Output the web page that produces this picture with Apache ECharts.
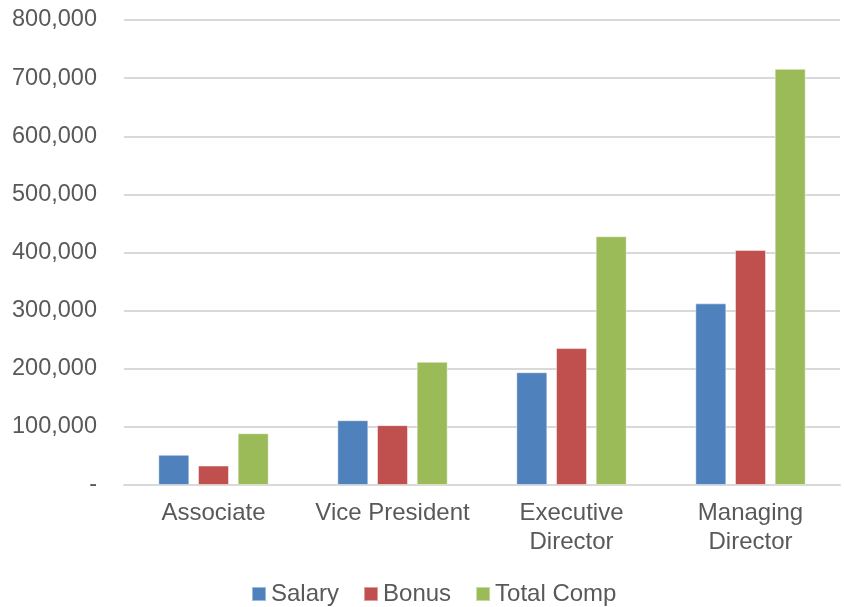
<!DOCTYPE html>
<html>
<head>
<meta charset="utf-8">
<script src="https://cdn.jsdelivr.net/npm/echarts@6/dist/echarts.min.js"></script>
<style>
  html, body { margin: 0; padding: 0; background: #fff; }
  #chart { width: 844px; height: 607px; }
</style>
</head>
<body>
<div id="chart"></div>
<script>
var categories = ['Associate', 'Vice President', 'Executive\nDirector', 'Managing\nDirector'];
var salary = [52000, 111500, 194000, 312500];
var bonus = [33500, 103000, 235500, 404500];
var totalComp = [89000, 212000, 428000, 716000];

var myChart = echarts.init(document.getElementById('chart'));
var textColor = '#595959';
var font = 'Liberation Sans, Arial, sans-serif';

function barSeries(name, data, color) {
    return {
        name: name,
        type: 'bar',
        data: data,
        barWidth: 31,
        barGap: '28%',
        itemStyle: {
            color: color,
            borderColor: 'rgba(255,255,255,0.45)',
            borderWidth: 1
        }
    };
}

var option = {
    animation: false,
    textStyle: { fontFamily: font },
    grid: { left: 124, right: 4, top: 20, bottom: 122 },
    legend: {
        top: 577,
        left: 246,
        itemWidth: 14,
        itemHeight: 14,
        itemGap: 24,
        icon: 'rect',
        textStyle: { color: textColor, fontSize: 24, fontFamily: font }
    },
    xAxis: {
        type: 'category',
        data: categories,
        axisTick: { show: false },
        axisLine: { lineStyle: { color: '#d9d9d9', width: 2 } },
        axisLabel: {
            color: textColor,
            fontSize: 24,
            lineHeight: 29,
            margin: 14,
            interval: 0,
            fontFamily: font
        }
    },
    yAxis: {
        type: 'value',
        min: 0,
        max: 800000,
        interval: 100000,
        axisLine: { show: false },
        axisTick: { show: false },
        splitLine: { lineStyle: { color: '#d9d9d9', width: 2 } },
        axisLabel: {
            color: textColor,
            fontSize: 23.5,
            margin: 27,
            fontFamily: font,
            formatter: function (v) {
                return v === 0 ? '-' : v.toLocaleString('en-US');
            }
        }
    },
    series: [
        barSeries('Salary', salary, '#4F81BD'),
        barSeries('Bonus', bonus, '#C0504D'),
        barSeries('Total Comp', totalComp, '#9BBB59')
    ]
};

myChart.setOption(option);
</script>
</body>
</html>
